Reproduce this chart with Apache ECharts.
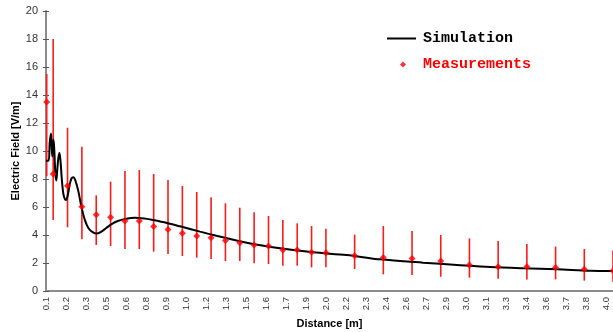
<!DOCTYPE html>
<html>
<head>
<meta charset="utf-8">
<script src="https://cdn.jsdelivr.net/npm/echarts@6/dist/echarts.min.js"></script>
<style>
    html, body { margin: 0; padding: 0; background: #fff; }
    #chart { width: 613px; height: 332px; }
</style>
</head>
<body>
<div id="chart"></div>
<script>
// category-style tick labels, one every 20px along the distance axis
const tickLabels = ['0.1', '0.2', '0.3', '0.5', '0.6', '0.8', '0.9', '1.0', '1.2', '1.3', '1.5', '1.6', '1.7', '1.9', '2.0',
    '2.2', '2.3', '2.4', '2.6', '2.7', '2.9', '3.0', '3.1', '3.3', '3.4', '3.6', '3.7', '3.8', '4.0'];

// simulated field along the path [m], [V/m]
const simDistance = [0.050, 0.068, 0.076, 0.085, 0.090, 0.094, 0.099, 0.103, 0.109, 0.115, 0.122, 0.128, 0.136, 0.144,
    0.151, 0.160, 0.170, 0.180, 0.189, 0.201, 0.215, 0.228, 0.240, 0.256, 0.276, 0.295, 0.320, 0.345, 0.375, 0.403,
    0.430, 0.470, 0.510, 0.550, 0.601, 0.671, 0.741, 0.796, 0.893, 0.984, 1.123, 1.216, 1.449, 1.681, 1.911, 2.145,
    2.378, 2.677, 2.912, 3.144, 3.374, 3.609, 3.841, 4.000];
const simField = [9.3, 9.3, 10.6, 11.25, 10.2, 9.6, 10.5, 10.8, 9.8, 8.4, 7.9, 8.6, 9.5, 9.85,
    9.3, 8.0, 7.0, 6.6, 6.5, 6.8, 7.6, 8.05, 8.12, 7.85, 7.1, 6.1, 5.1, 4.5, 4.2, 4.1,
    4.2, 4.5, 4.8, 5.0, 5.15, 5.24, 5.17, 5.07, 4.86, 4.62, 4.24, 4.0, 3.45, 3.05, 2.76, 2.57,
    2.26, 2.02, 1.86, 1.71, 1.62, 1.55, 1.45, 1.43];

// measurements with min / max range
const measDistance = [0.055, 0.1, 0.2, 0.3, 0.4, 0.5, 0.6, 0.7, 0.8, 0.9, 1.0, 1.1, 1.2, 1.3, 1.4, 1.5, 1.6, 1.7,
    1.8, 1.9, 2.0, 2.2, 2.4, 2.6, 2.8, 3.0, 3.2, 3.4, 3.6, 3.8, 4.0];
const measField = [13.5, 8.36, 7.52, 6.02, 5.45, 5.26, 5.0, 5.0, 4.6, 4.4, 4.12, 3.93, 3.81, 3.6, 3.45, 3.29, 3.21, 2.93,
    2.93, 2.76, 2.74, 2.52, 2.4, 2.33, 2.14, 1.86, 1.74, 1.74, 1.67, 1.55, 1.45];
const measLow = [8.2, 5.07, 4.55, 3.69, 3.29, 3.21, 3.0, 3.0, 2.81, 2.64, 2.5, 2.38, 2.29, 2.14, 2.14, 1.98, 1.93, 1.81,
    1.81, 1.69, 1.69, 1.57, 1.19, 1.14, 1.02, 0.95, 0.88, 0.83, 0.83, 0.74, 0.66];
const measHigh = [15.5, 18.0, 11.66, 10.3, 6.83, 7.81, 8.57, 8.64, 8.36, 7.93, 7.5, 7.07, 6.69, 6.26, 5.95, 5.62, 5.36, 5.07,
    4.83, 4.64, 4.45, 4.02, 4.64, 4.29, 4.0, 3.76, 3.57, 3.36, 3.17, 3.0, 2.9];

const X_MIN = 0.05;
const X_MAX = 4.0;
const TICK_SPAN = 28.33; // label axis length in tick steps

const AXIS_GRAY = '#8c8c8c';
const FONT = 'Liberation Sans, Arial, sans-serif';
const LEGEND_FONT = { fontFamily: 'Liberation Mono, DejaVu Sans Mono, monospace', fontSize: 15, fontWeight: 'bold', lineHeight: 15 };

const chart = echarts.init(document.getElementById('chart'));

const option = {
    animation: false,
    backgroundColor: '#fff',
    grid: { left: 46, right: 0, top: 11, bottom: 41, outerBoundsMode: 'none' },
    legend: [
        {
            left: 387,
            top: 31,
            padding: 0,
            itemWidth: 29,
            itemHeight: 2,
            textStyle: { ...LEGEND_FONT, color: '#000', padding: [0, 0, 0, 2] },
            data: [{ name: 'Simulation', icon: 'rect' }],
        },
        {
            left: 400,
            top: 57,
            padding: 0,
            itemWidth: 6,
            itemHeight: 6,
            textStyle: { ...LEGEND_FONT, color: '#ff0000', padding: [0, 0, 0, 12] },
            data: [{ name: 'Measurements', icon: 'diamond' }],
        },
    ],
    xAxis: [
        {
            type: 'value',
            min: X_MIN,
            max: X_MAX,
            show: false,
            position: 'bottom',
        },
        {
            type: 'value',
            position: 'bottom',
            min: 0,
            max: TICK_SPAN,
            interval: 1,
            name: 'Distance [m]',
            nameLocation: 'middle',
            nameGap: 27,
            nameMoveOverlap: false,
            nameTextStyle: { fontFamily: FONT, fontSize: 11, fontWeight: 'bold', color: '#000' },
            axisLine: { show: true, lineStyle: { color: AXIS_GRAY, width: 2 } },
            axisTick: { show: false },
            splitLine: { show: false },
            axisLabel: {
                rotate: 90,
                margin: 6,
                fontFamily: FONT,
                fontSize: 9.5,
                color: '#333',
                showMinLabel: true,
                showMaxLabel: true,
                formatter(val) {
                    const label = tickLabels[Math.round(val)];
                    return Math.abs(val - Math.round(val)) < 1e-6 && label ? label : '';
                },
            },
        },
    ],
    yAxis: [
        {
            type: 'value',
            position: 'left',
            min: 0,
            max: 20,
            interval: 2,
            name: 'Electric Field [V/m]',
            nameLocation: 'middle',
            nameGap: 25,
            nameMoveOverlap: false,
            nameTextStyle: { fontFamily: FONT, fontSize: 11, fontWeight: 'bold', color: '#000' },
            axisLine: { show: true, lineStyle: { color: AXIS_GRAY, width: 2 } },
            axisTick: { show: true, length: 3, lineStyle: { color: '#555' } },
            splitLine: { show: false },
            axisLabel: { fontFamily: FONT, fontSize: 11, color: '#333', margin: 8 },
        },
        {
            // inner half of the crossing ticks
            type: 'value',
            position: 'left',
            min: 0,
            max: 20,
            interval: 2,
            axisLine: { show: false },
            axisTick: { show: true, inside: true, length: 3, lineStyle: { color: '#555' } },
            axisLabel: { show: false },
            splitLine: { show: false },
        },
    ],
    series: [
        {
            name: 'Simulation',
            type: 'line',
            xAxisIndex: 0,
            yAxisIndex: 0,
            data: simDistance.map((d, i) => [d, simField[i]]),
            symbol: 'none',
            smooth: 0.3,
            lineStyle: { color: '#000', width: 2 },
            itemStyle: { color: '#000' },
            z: 3,
        },
        {
            name: 'Range',
            type: 'custom',
            xAxisIndex: 0,
            yAxisIndex: 0,
            data: measDistance.map((d, i) => [d, measLow[i], measHigh[i]]),
            encode: { x: 0, y: [1, 2] },
            itemStyle: { color: '#ff0000' },
            renderItem(params, api) {
                const top = api.coord([api.value(0), api.value(2)]);
                const bottom = api.coord([api.value(0), api.value(1)]);
                return {
                    type: 'line',
                    shape: { x1: top[0], y1: top[1], x2: bottom[0], y2: bottom[1] },
                    style: { stroke: '#ff1a1a', fill: null, lineWidth: 1.6 },
                };
            },
            z: 2,
        },
        {
            name: 'Measurements',
            type: 'scatter',
            xAxisIndex: 0,
            yAxisIndex: 0,
            data: measDistance.map((d, i) => [d, measField[i]]),
            symbol: 'diamond',
            symbolSize: 7,
            clip: false,
            itemStyle: { color: '#ff0000' },
            z: 4,
        },
    ],
};

chart.setOption(option);
</script>
</body>
</html>
